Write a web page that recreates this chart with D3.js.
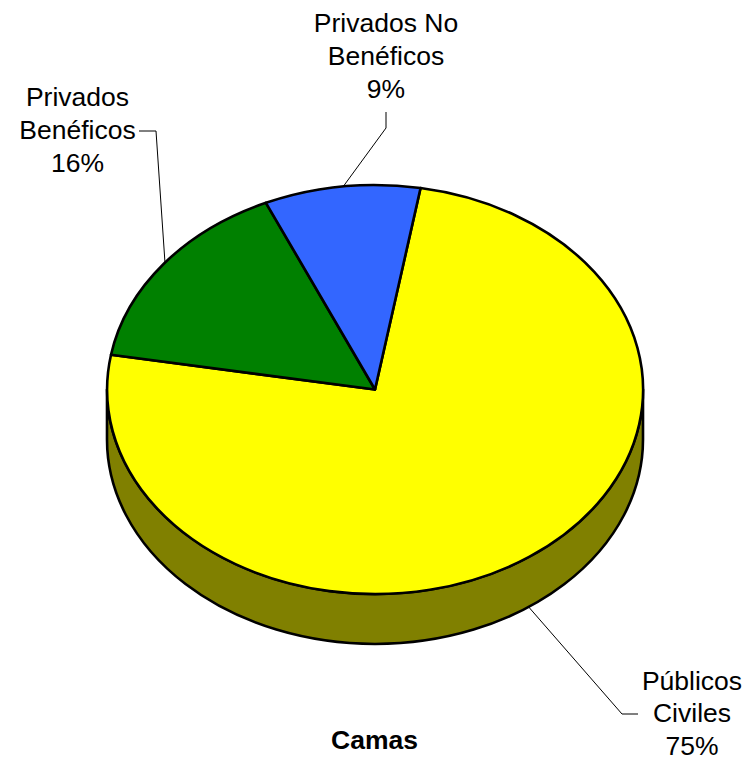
<!DOCTYPE html>
<html><head><meta charset="utf-8">
<script src="https://cdn.jsdelivr.net/npm/d3@7/dist/d3.min.js"></script>
<style>html,body{margin:0;padding:0;background:#fff}svg{display:block}</style>
</head><body>
<svg id="c" width="747" height="760"></svg>
<script>
const categories = ["Públicos Civiles", "Privados Benéficos", "Privados No Benéficos"];
const shares = [75.0, 15.6, 9.4];
const labelLines = [["Públicos", "Civiles"], ["Privados", "Benéficos"], ["Privados No", "Benéficos"]];
const colors = ["#ffff00", "#008000", "#3366ff"];
const sideColor = "#808000";
const chartTitle = "Camas";

const cx = 375, cy = 389.5, rx = 268, ry = 204.5, depth = 50;
const startDeg = 9.8;
const font = "'Liberation Sans', Arial, sans-serif";
const svg = d3.select("#c");

const pie = d3.pie().sort(null).value(d => d)
  .startAngle(startDeg * Math.PI / 180)
  .endAngle((startDeg + 360) * Math.PI / 180);
const arcs = pie(shares);
const arc = d3.arc().innerRadius(0).outerRadius(1);

const sx = d3.scaleLinear().domain([-1, 1]).range([cx - rx, cx + rx]);
const sy = d3.scaleLinear().domain([-1, 1]).range([cy - ry, cy + ry]);

// Side wall: the lower half of the ellipse, extruded downward
const wallD = `M${sx(1)},${sy(0)} L${sx(1)},${sy(0) + depth} A${rx},${ry} 0 0 1 ${sx(-1)},${sy(0) + depth} L${sx(-1)},${sy(0)} A${rx},${ry} 0 0 0 ${sx(1)},${sy(0)} Z`;
svg.append("path").attr("d", wallD)
  .attr("fill", sideColor).attr("stroke", "#000").attr("stroke-width", 2.6).attr("stroke-linejoin", "round");

// Leader lines: from the slice edge, via a bend, to its label
const leaderAngles = [145, -51.6, -6.8];
const leaderDrop = [depth, 0, 0];
const leaderBends = [[[622, 714], [638, 714]], [[156, 131], [139, 131]], [[386, 128], [386, 112]]];
function edgePoint(deg, drop) {
  const a = deg * Math.PI / 180;
  return [sx(Math.sin(a)), sy(-Math.cos(a)) + drop];
}
const line = d3.line();
svg.selectAll("path.leader").data(leaderAngles).join("path")
  .attr("class", "leader")
  .attr("d", (d, i) => line([edgePoint(d, leaderDrop[i]), ...leaderBends[i]]))
  .attr("fill", "none").attr("stroke", "#000").attr("stroke-width", 1);

// Top face: unit-radius arcs stretched into an ellipse
const face = svg.append("g").attr("transform", `translate(${cx},${cy}) scale(${rx},${ry})`);
face.selectAll("path").data(arcs).join("path")
  .attr("d", arc)
  .attr("fill", (d, i) => colors[i])
  .attr("stroke", "#000").attr("stroke-width", 2.6)
  .attr("vector-effect", "non-scaling-stroke")
  .attr("stroke-linejoin", "round");

// Labels
const labelPos = [[692, 689.5], [77.5, 106], [386, 32]];
const lh = 32.8;
const labels = svg.append("g").attr("font-family", font).attr("font-size", 26.5).attr("fill", "#000").attr("text-anchor", "middle");
labelLines.forEach((lines, i) => {
  const t = labels.append("text");
  [...lines, Math.round(shares[i]) + "%"].forEach((s, k) => {
    t.append("tspan").attr("x", labelPos[i][0]).attr("y", labelPos[i][1] + k * lh).text(s);
  });
});

svg.append("text").attr("x", 374.5).attr("y", 749)
  .attr("text-anchor", "middle").attr("font-family", font).attr("font-size", 26.5).attr("font-weight", "bold").text(chartTitle);
</script>
</body></html>
